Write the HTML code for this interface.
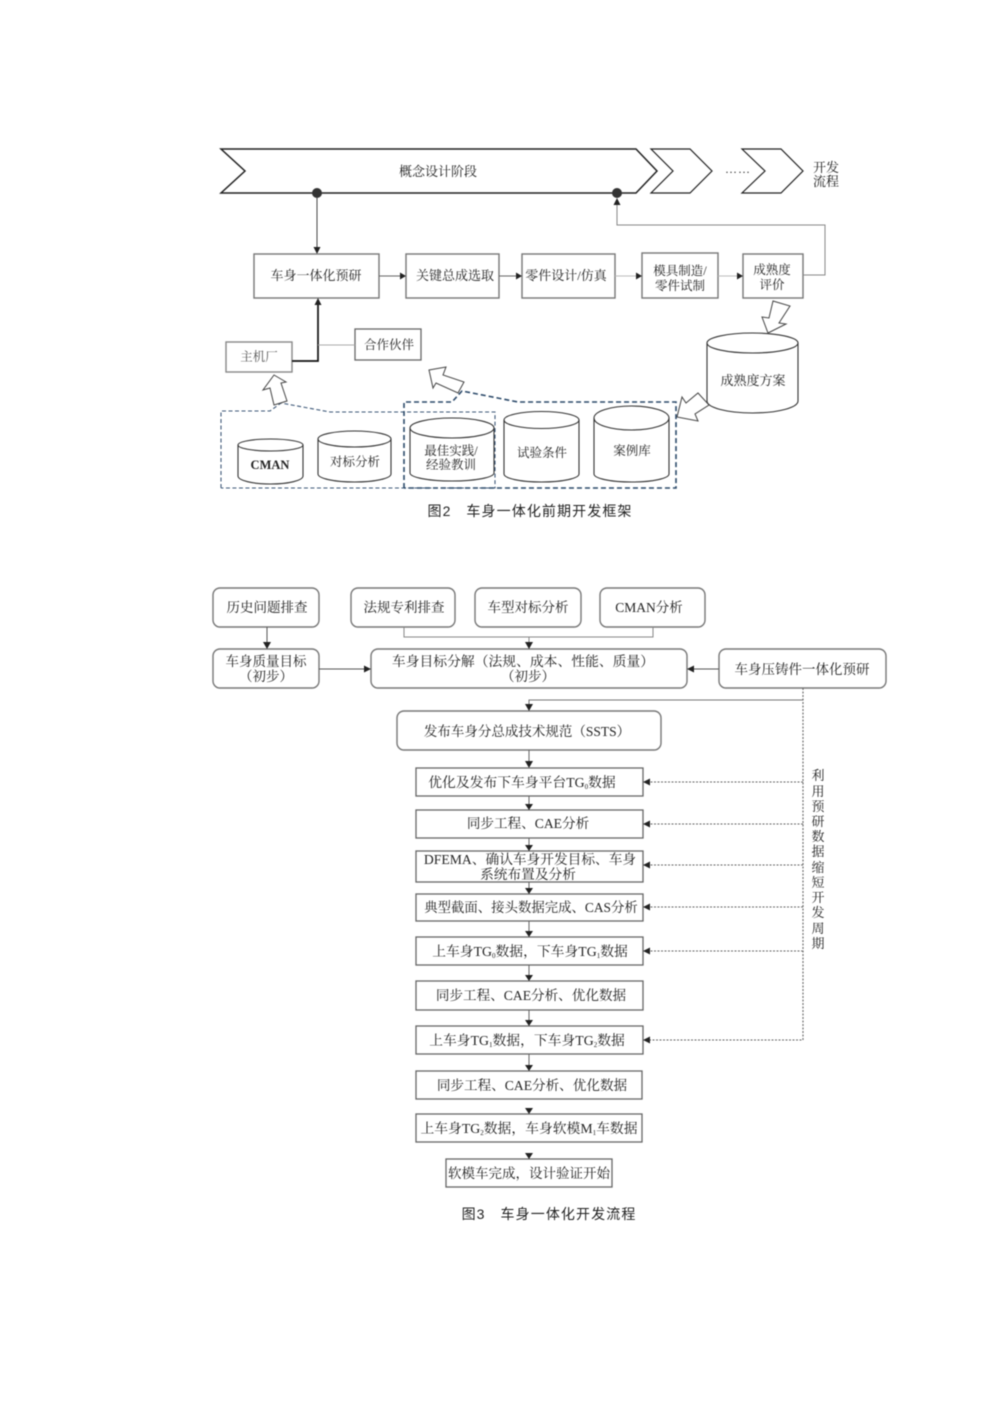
<!DOCTYPE html>
<html><head><meta charset="utf-8">
<style>
html,body{margin:0;padding:0;background:#fff}
svg{display:block;filter:blur(0.4px)}
text{font-family:"Liberation Serif","Noto Serif CJK SC",serif;font-size:13px;fill:#222;text-anchor:middle;white-space:pre}
.b{fill:#fff;stroke:#777;stroke-width:1.4}
.r{fill:#fff;stroke:#666;stroke-width:1.3}
.l{fill:none;stroke:#666;stroke-width:1}
.c{fill:#fff;stroke:#333;stroke-width:1.1}
.h{fill:#fff;stroke:#444;stroke-width:1}
.d{fill:none;stroke:#666;stroke-width:1.100;stroke-dasharray:2 1.5}
.a{fill:#222;stroke:none}
.cap{font-family:"Liberation Sans","Noto Sans CJK SC",sans-serif;font-size:14px;fill:#222;letter-spacing:1.1px;font-weight:400}
.small{font-size:7px}
</style></head><body>
<svg width="992" height="1403" viewBox="0 0 992 1403" xmlns="http://www.w3.org/2000/svg">
<!-- Top chevrons -->
<polygon points="221,149 636,149 657,171 636,193 221,193 245,171" fill="#fff" stroke="#222" stroke-width="1.5"/>
<polygon points="651,149 690,149 712,171 690,193 651,193 673,171" fill="#fff" stroke="#222" stroke-width="1.2"/>
<polygon points="742,149 781,149 803,171 781,193 742,193 765,171" fill="#fff" stroke="#222" stroke-width="1.2"/>
<text x="438" y="176" style="font-size:13px">概念设计阶段</text>
<text x="738" y="173" style="font-size:12px;letter-spacing:1px">……</text>
<text x="826" y="172" style="font-size:13px">开发</text>
<text x="826" y="186" style="font-size:13px">流程</text>
<circle cx="317" cy="193" r="5" fill="#333"/>
<circle cx="617" cy="193" r="5" fill="#333"/>

<!-- Row boxes -->
<line x1="317" y1="198" x2="317" y2="248" stroke="#444"/>
<polygon class="a" points="313.500,247 320.500,247 317,254"/>
<rect class="b" x="254" y="254" width="125" height="44"/>
<rect class="b" x="406" y="254" width="93" height="44"/>
<rect class="b" x="522" y="254" width="93" height="44"/>
<rect class="b" x="642" y="253" width="76" height="45"/>
<rect class="b" x="743" y="254" width="60" height="44"/>
<text x="316" y="280" style="font-size:13px">车身一体化预研</text>
<text x="455" y="280" style="font-size:13px;">关键总成选取</text>
<text x="566" y="280" style="font-size:13px">零件设计/仿真</text>
<text x="680" y="275" style="font-size:12.500px">模具制造/</text>
<text x="680" y="290" style="font-size:12.500px">零件试制</text>
<text x="772" y="274" style="font-size:12.500px">成熟度</text>
<text x="772" y="289" style="font-size:12.500px">评价</text>
<path d="M379 276H400M499 276H516" fill="none" stroke="#666"/>
<path d="M615 276H636M718 276H737" fill="none" stroke="#bbb"/>
<polygon class="a" points="400,272.500 406,276 400,279.500"/>
<polygon class="a" points="516,272.500 522,276 516,279.500"/>
<polygon class="a" points="636,272.500 642,276 636,279.500"/>
<polygon class="a" points="737,272.500 743,276 737,279.500"/>
<path d="M803 275H825V225H617V204" fill="none" stroke="#888" stroke-width="1"/>
<polygon class="a" points="617,198 613.500,205 620.500,205"/>

<!-- OEM / Partner -->
<rect class="b" x="226" y="342" width="66" height="30" style="stroke:#888"/>
<rect class="r" x="355" y="329" width="66" height="31"/>
<text x="259" y="361" style="font-size:12.500px;fill:#555">主机厂</text>
<text x="389" y="349" style="font-size:12.500px">合作伙伴</text>
<path d="M292 361H318V304" fill="none" stroke="#111" stroke-width="1.700"/>
<polygon class="a" points="318,298 314.500,305 321.500,305"/>
<line x1="318" y1="345" x2="355" y2="345" stroke="#aaa"/>

<!-- Maturity cylinder -->
<path class="c" d="M707 343A45.500 10 0 0 1 798 343V401A45.500 12 0 0 1 707 401Z"/>
<path class="c" style="fill:none" d="M707 343A45.500 10 0 0 0 798 343"/>
<text x="753" y="385" style="font-size:13px">成熟度方案</text>

<!-- Lower cylinders -->
<path class="c" d="M238 445A32.500 6 0 0 1 303 445V476A32.500 8 0 0 1 238 476Z"/>
<path class="c" style="fill:none" d="M238 445A32.500 6 0 0 0 303 445"/>
<text x="270" y="469" style="font-size:12.500px;font-weight:bold">CMAN</text>

<path class="c" d="M318 439A36.500 8 0 0 1 391 439V474A36.500 8 0 0 1 318 474Z"/>
<path class="c" style="fill:none" d="M318 439A36.500 8 0 0 0 391 439"/>
<text x="355" y="466" style="font-size:12.500px">对标分析</text>

<path class="c" d="M410 428A42 10 0 0 1 494 428V473A42 8 0 0 1 410 473Z"/>
<path class="c" style="fill:none" d="M410 428A42 10 0 0 0 494 428"/>
<text x="451" y="455" style="font-size:12.500px">最佳实践/</text>
<text x="451" y="469" style="font-size:12.500px">经验教训</text>

<path class="c" d="M504 420A37.500 8.500 0 0 1 579 420V474A37.500 8 0 0 1 504 474Z"/>
<path class="c" style="fill:none" d="M504 420A37.500 8.500 0 0 0 579 420"/>
<text x="542" y="457" style="font-size:12.500px">试验条件</text>

<path class="c" d="M594 418A37.500 12 0 0 1 669 418V474A37.500 8 0 0 1 594 474Z"/>
<path class="c" style="fill:none" d="M594 418A37.500 12 0 0 0 669 418"/>
<text x="632" y="455" style="font-size:12.500px">案例库</text>

<!-- Dashed regions -->
<path d="M221 488V411H270L281 403L330 412H495V488H221" fill="none" stroke="#3d5878" stroke-width="1.100" stroke-dasharray="4 2.500"/>
<path d="M404 488V402H452L462 391L518 402H676V488H404" fill="none" stroke="#2c4a6a" stroke-width="1.600" stroke-dasharray="5 3"/>

<!-- Hollow arrows -->
<polygon class="h" points="274,375 286,382 281,383 287,401 274,405 270,388 263,390"/>
<polygon class="h" points="429,370 446,367 443,375 464,382 458,393 436,383 433,388"/>
<polygon class="h" points="698,393 709,405 695,414 698,421 677,417 682,397 686,403"/>
<polygon class="h" points="773,301 790,306 779,323 786,324 768,333 762,317 769,318"/>

<text class="cap" x="530" y="516">图2   车身一体化前期开发框架</text>

<!-- Flow 2: rounded boxes -->
<rect class="b" x="213" y="588" width="106" height="39" rx="7"/>
<rect class="b" x="351" y="588" width="104" height="39" rx="7"/>
<rect class="b" x="475" y="588" width="106" height="39" rx="7"/>
<rect class="b" x="600" y="588" width="105" height="39" rx="7"/>
<rect class="b" x="213" y="649" width="106" height="39" rx="7"/>
<rect class="b" x="371" y="649" width="316" height="39" rx="7"/>
<rect class="b" x="719" y="649" width="167" height="39" rx="7"/>
<rect class="b" x="397" y="711" width="264" height="39" rx="7"/>
<text x="267" y="612" style="font-size:13.500px">历史问题排查</text>
<text x="404" y="612" style="font-size:13.500px">法规专利排查</text>
<text x="528" y="612" style="font-size:13.500px">车型对标分析</text>
<text x="649" y="612" style="font-size:13.500px">CMAN分析</text>
<text x="266" y="666" style="font-size:13.500px">车身质量目标</text>
<text x="266" y="681" style="font-size:13.500px">（初步）</text>
<text x="523" y="666" style="font-size:13.800px">车身目标分解（法规、成本、性能、质量）</text>
<text x="528" y="681" style="font-size:13.500px">（初步）</text>
<text x="802" y="674" style="font-size:13.500px">车身压铸件一体化预研</text>
<text x="527" y="736" style="font-size:13.500px">发布车身分总成技术规范（SSTS）</text>

<!-- Connectors -->
<path class="l" d="M267 627V643M319 669H365M719 669H693" style="stroke:#555"/>
<polygon class="a" points="263,642 271,642 267,649"/>
<polygon class="a" points="364,665.500 364,672.500 371,669"/>
<polygon class="a" points="687,669 694,665.500 694,672.500"/>
<path d="M404 627V637H653V627M529 637V643" fill="none" stroke="#888"/>
<polygon class="a" points="525,642 533,642 529,649"/>
<path d="M529 705V700H803" fill="none" stroke="#777"/>
<polygon class="a" points="525,704 533,704 529,711"/>
<line x1="529" y1="750" x2="529" y2="763" stroke="#666"/>
<polygon class="a" points="525,761 533,761 529,768"/>

<!-- Rect steps -->
<rect class="r" x="416" y="768" width="227" height="28"/>
<rect class="r" x="416" y="810" width="227" height="28"/>
<rect class="r" x="416" y="851" width="227" height="31"/>
<rect class="r" x="416" y="894" width="227" height="27"/>
<rect class="r" x="416" y="937" width="227" height="28"/>
<rect class="r" x="416" y="981" width="227" height="29"/>
<rect class="r" x="416" y="1026" width="227" height="28"/>
<rect class="r" x="416" y="1071" width="226" height="28"/>
<rect class="r" x="416" y="1114" width="226" height="28"/>
<rect class="r" x="446" y="1159" width="166" height="28"/>

<text x="522" y="787" style="font-size:13.800px">优化及发布下车身平台TG<tspan class="small" dy="2">0</tspan><tspan dy="-2">数据</tspan></text>
<text x="528" y="828" style="font-size:13.600px">同步工程、CAE分析</text>
<text x="530" y="864" style="font-size:13.700px">DFEMA、确认车身开发目标、车身</text>
<text x="528" y="879" style="font-size:13.700px">系统布置及分析</text>
<text x="531" y="912" style="font-size:13.400px">典型截面、接头数据完成、CAS分析</text>
<text x="530" y="956" style="font-size:13.800px">上车身TG<tspan class="small" dy="2">0</tspan><tspan dy="-2">数据，下车身TG</tspan><tspan class="small" dy="2">1</tspan><tspan dy="-2">数据</tspan></text>
<text x="531" y="1000" style="font-size:13.600px">同步工程、CAE分析、优化数据</text>
<text x="527" y="1045" style="font-size:13.800px">上车身TG<tspan class="small" dy="2">1</tspan><tspan dy="-2">数据，下车身TG</tspan><tspan class="small" dy="2">2</tspan><tspan dy="-2">数据</tspan></text>
<text x="532" y="1090" style="font-size:13.600px">同步工程、CAE分析、优化数据</text>
<text x="529" y="1133" style="font-size:13.800px">上车身TG<tspan class="small" dy="2">2</tspan><tspan dy="-2">数据，车身软模M</tspan><tspan class="small" dy="2">1</tspan><tspan dy="-2">车数据</tspan></text>
<text x="529" y="1178" style="font-size:13.500px">软模车完成，设计验证开始</text>

<!-- Down arrows -->
<path class="l" d="M529 796V805M529 838V846M529 882V889M529 921V932M529 965V976M529 1010V1021M529 1054V1066"/>
<polygon class="a" points="525,804 533,804 529,810"/>
<polygon class="a" points="525,845 533,845 529,851"/>
<polygon class="a" points="525,888 533,888 529,894"/>
<polygon class="a" points="525,931 533,931 529,937"/>
<polygon class="a" points="525,975 533,975 529,981"/>
<polygon class="a" points="525,1020 533,1020 529,1026"/>
<polygon class="a" points="525,1065 533,1065 529,1071"/>
<polygon class="a" points="525,1108 533,1108 529,1114"/>
<polygon class="a" points="525,1153 533,1153 529,1159"/>

<!-- Dashed side line -->
<path class="d" d="M803 688V1040H650M803 782H650M803 824H650M803 865H650M803 907H650M803 951H650"/>
<polygon class="a" points="643,782 650,778.500 650,785.500"/>
<polygon class="a" points="643,824 650,820.500 650,827.500"/>
<polygon class="a" points="643,865 650,861.500 650,868.500"/>
<polygon class="a" points="643,907 650,903.500 650,910.500"/>
<polygon class="a" points="643,951 650,947.500 650,954.500"/>
<polygon class="a" points="643,1040 650,1036.500 650,1043.500"/>

<!-- Vertical text -->
<g>
<text x="818" y="780">利</text>
<text x="818" y="796">用</text>
<text x="818" y="811">预</text>
<text x="818" y="826">研</text>
<text x="818" y="841">数</text>
<text x="818" y="856">据</text>
<text x="818" y="872">缩</text>
<text x="818" y="887">短</text>
<text x="818" y="902">开</text>
<text x="818" y="917">发</text>
<text x="818" y="933">周</text>
<text x="818" y="948">期</text>
</g>

<text class="cap" x="549" y="1219">图3   车身一体化开发流程</text>
</svg>
</body></html>
